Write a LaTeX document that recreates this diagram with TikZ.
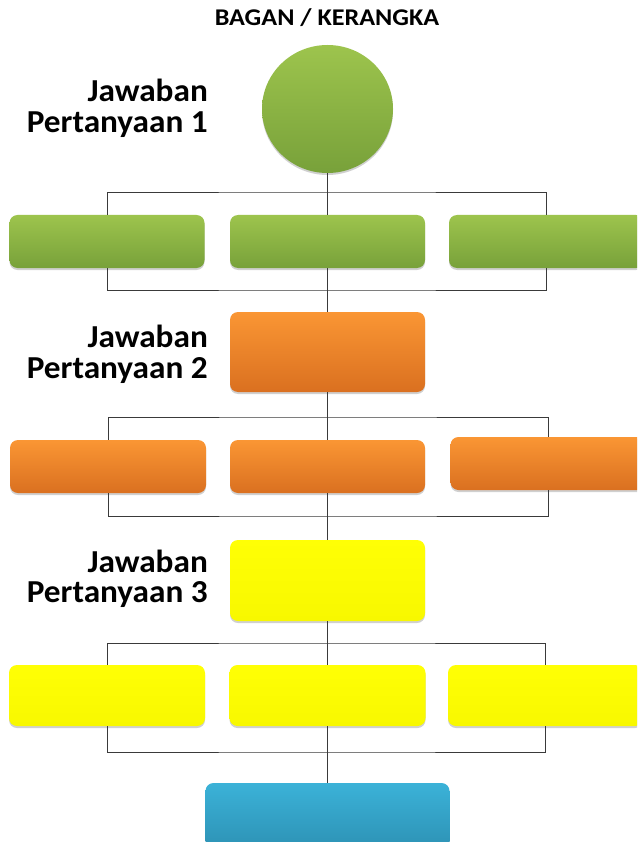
\documentclass[tikz,border=0pt]{standalone}
\usepackage{fontspec}
\setmainfont{Carlito}
\newfontfamily\titlefont[FakeStretch=1.09]{Carlito}
\newfontfamily\labelfont[FakeStretch=1.04]{Carlito}
\usetikzlibrary{shapes.geometric,shadows}
\definecolor{gtop}{HTML}{9DC44D}
\definecolor{gbot}{HTML}{78A13A}
\definecolor{otop}{HTML}{FA9634}
\definecolor{obot}{HTML}{DA7020}
\definecolor{ytop}{HTML}{FFFF05}
\definecolor{ybot}{HTML}{F8F800}
\definecolor{btop}{HTML}{3BB2D8}
\definecolor{bbot}{HTML}{2A8BAD}
\definecolor{linec}{HTML}{3A3A3A}
\tikzset{
  shade/.style={drop shadow={shadow xshift=0pt,shadow yshift=-2pt,opacity=0.3,fill=black!60}},
  boxnode/.style={rectangle,rounded corners=8pt,minimum width=195pt,inner sep=0pt,shade},
  greenbox/.style={boxnode,top color=gtop,bottom color=gbot,minimum height=53pt},
  orangebox/.style={boxnode,top color=otop,bottom color=obot},
  yellowbox/.style={boxnode,top color=ytop,bottom color=ybot},
  bluebox/.style={boxnode,top color=btop,bottom color=bbot},
  conn/.style={draw=linec,line width=0.9pt},
  lbl/.style={font=\labelfont\bfseries\fontsize{32}{32}\selectfont,anchor=base east,inner sep=0pt},
}
\begin{document}
\begin{tikzpicture}[x=1pt,y=-1pt]
\clip (0,0) rectangle (637,842);
\fill[white] (0,0) rectangle (637,842);
% title
\node[font=\titlefont\bfseries\fontsize{24}{24}\selectfont,anchor=base,inner sep=0pt] (title) at (327,26) {BAGAN / KERANGKA};
% connector coordinates
\coordinate (t1) at (327.5,192);
\coordinate (b1) at (327.5,290);
\coordinate (t2) at (327.5,417);
\coordinate (b2) at (327.5,516);
\coordinate (t3) at (327.5,643);
\coordinate (b3) at (327.5,752);
% level 1
\node[ellipse,minimum width=131pt,minimum height=128pt,inner sep=0pt,top color=gtop,bottom color=gbot,shade] (c1) at (327.5,109) {};
\node[greenbox] (g1) at (107,241.5) {};
\node[greenbox] (g2) at (327.5,241.5) {};
\node[greenbox] (g3) at (546.5,241.5) {};
% level 2
\node[orangebox,minimum height=80pt] (o0) at (327.5,352) {};
\node[orangebox,minimum height=53pt,minimum width=196pt] (o1) at (108,466.5) {};
\node[orangebox,minimum height=53pt] (o2) at (327.5,466.5) {};
\node[orangebox,minimum height=53pt] (o3) at (548,463.5) {};
% level 3
\node[yellowbox,minimum height=81pt] (y0) at (327.5,580.5) {};
\node[yellowbox,minimum height=61pt,minimum width=196pt] (y1) at (107,695.5) {};
\node[yellowbox,minimum height=61pt,minimum width=196pt] (y2) at (327.5,695.5) {};
\node[yellowbox,minimum height=61pt] (y3) at (545.5,695.5) {};
% bottom
\node[bluebox,minimum width=244pt,minimum height=80pt] (bl) at (327.5,823) {};
% connectors
\begin{scope}[conn]
\draw (c1.south) -- (g2.north);
\draw (g1.north) |- (t1) -| (g3.north);
\draw (g2.south) -- (o0.north);
\draw (g1.south) |- (b1) -| (g3.south);
\draw (o0.south) -- (o2.north);
\draw (o1.north) |- (t2) -| (o3.north);
\draw (o2.south) -- (y0.north);
\draw (o1.south) |- (b2) -| (o3.south);
\draw (y0.south) -- (y2.north);
\draw (y1.north) |- (t3) -| (y3.north);
\draw (y2.south) -- (bl.north);
\draw (y1.south) |- (b3) -| (y3.south);
\end{scope}
% labels
\node[lbl] (l1a) at (208,102) {Jawaban};
\node[lbl] (l1b) at (208,133) {Pertanyaan 1};
\node[lbl] (l2a) at (208,347) {Jawaban};
\node[lbl] (l2b) at (208,378) {Pertanyaan 2};
\node[lbl] (l3a) at (208,572) {Jawaban};
\node[lbl] (l3b) at (208,602) {Pertanyaan 3};
\end{tikzpicture}
\end{document}
